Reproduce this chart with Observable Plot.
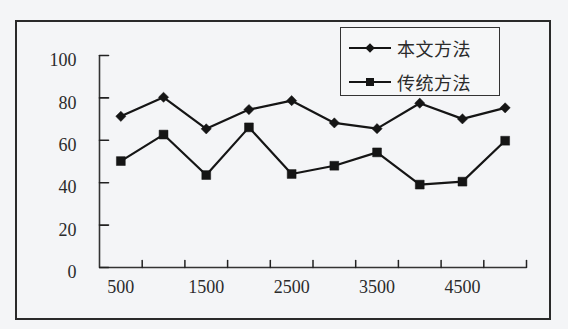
<!DOCTYPE html>
<html>
<head>
<meta charset="utf-8">
<script src="https://cdn.jsdelivr.net/npm/d3@7"></script>
<script src="https://cdn.jsdelivr.net/npm/@observablehq/plot@0.6"></script>
<style>
  html, body { margin: 0; padding: 0; background: #f4f5f7; }
  #wrap { position: relative; width: 568px; height: 329px; background: #f4f5f7; overflow: hidden; }
  #wrap > svg { position: absolute; left: 0; top: 0; }
  #frame { position: absolute; left: 15px; top: 20px; width: 536px; height: 300px; box-sizing: border-box; border: 2px solid #2a2a2a; pointer-events: none; }
  #legend { position: absolute; left: 340px; top: 27px; width: 160px; height: 69px; box-sizing: border-box; border: 1.3px solid #333; background: #f6f7f8; }
  #legend .row { position: absolute; left: 7px; height: 24px; display: flex; align-items: center; }
  #legend .row svg { position: static; display: block; flex: none; }
  #legend .row span { margin-left: 5px; font-family: "Noto Sans CJK SC", sans-serif; font-size: 18px; color: #2b2b2b; letter-spacing: 0.5px; line-height: 24px; }
</style>
</head>
<body>
<div id="wrap"><div id="frame"></div></div>
<script>
// Data
const xValues = [500, 1000, 1500, 2000, 2500, 3000, 3500, 4000, 4500, 5000];
const oursValues = [71.3, 80.3, 65.4, 74.5, 78.7, 68.2, 65.5, 77.5, 70.1, 75.3];
const tradValues = [50.2, 62.7, 43.6, 66.1, 44.1, 48.0, 54.3, 39.1, 40.5, 59.8];
const seriesNames = ["本文方法", "传统方法"];
const yTicks = [0, 20, 40, 60, 80, 100];
const xTickLabels = [500, 1500, 2500, 3500, 4500];

const step = xValues[1] - xValues[0];
const xMin = xValues[0] - step / 2;
const xMax = xValues[xValues.length - 1] + step / 2;
const boundaryTicks = d3.range(xMin + step, xMax + 1, step);

const rows = xValues.map((x, i) => ({x, ours: oursValues[i], trad: tradValues[i]}));
const ink = "#151515";
const tickShape = {draw(context, l) { context.moveTo(0, 0); context.lineTo(0, -l); }};

const chart = Plot.plot({
  width: 568,
  height: 329,
  marginLeft: 99,
  marginRight: 42,
  marginTop: 55,
  marginBottom: 62,
  style: {background: "transparent", fontFamily: "'Liberation Serif', 'Times New Roman', serif", fontSize: "18px", color: "#2b2b2b"},
  x: {domain: [xMin, xMax]},
  y: {domain: [0, 100]},
  marks: [
    // axis lines
    Plot.ruleY([0], {stroke: "#333", strokeWidth: 1.6}),
    Plot.ruleX([xMin], {y1: 0, y2: 100, stroke: "#333", strokeWidth: 1.6}),
    // y labels and inward ticks
    Plot.axisY(yTicks, {tickSize: 0, tickPadding: 23, dy: 5, label: null, fontSize: 18, fill: "#2b2b2b"}),
    Plot.vector(yTicks, {x: () => xMin, y: d => d, length: 9, rotate: 90, anchor: "start", shape: tickShape, stroke: "#222", strokeWidth: 1.6}),
    // x labels and upward boundary ticks
    Plot.axisX(xTickLabels, {tickSize: 0, tickPadding: 13, label: null, fontSize: 18, fill: "#2b2b2b", tickFormat: d => String(d)}),
    Plot.vector(boundaryTicks, {x: d => d, y: () => 0, length: 7, rotate: 0, anchor: "start", shape: tickShape, stroke: "#222", strokeWidth: 1.5}),
    // series
    Plot.line(rows, {x: "x", y: "ours", stroke: ink, strokeWidth: 2.2}),
    Plot.line(rows, {x: "x", y: "trad", stroke: ink, strokeWidth: 2.2}),
    Plot.dot(rows, {x: "x", y: "ours", symbol: "diamond2", r: 4.6, fill: ink, stroke: ink, strokeWidth: 0.5}),
    Plot.dot(rows, {x: "x", y: "trad", symbol: "square", r: 5, fill: ink, stroke: ink, strokeWidth: 0.5})
  ]
});
const wrap = document.getElementById("wrap");
wrap.insertBefore(chart, wrap.firstChild);

// Legend overlay
const legend = document.createElement("div");
legend.id = "legend";
const glyphs = [
  '<path d="M1,7H43" stroke="' + ink + '" stroke-width="2"/><path d="M22,2.2L26.8,7L22,11.8L17.2,7Z" fill="' + ink + '"/>',
  '<path d="M1,7H43" stroke="' + ink + '" stroke-width="2"/><rect x="18" y="3" width="8" height="8" fill="' + ink + '"/>'
];
const rowTops = [8, 42];
seriesNames.forEach((name, i) => {
  const r = document.createElement("div");
  r.className = "row";
  r.style.top = rowTops[i] + "px";
  r.innerHTML = '<svg width="44" height="14" viewBox="0 0 44 14">' + glyphs[i] + '</svg><span>' + name + '</span>';
  legend.appendChild(r);
});
wrap.appendChild(legend);
</script>
</body>
</html>
